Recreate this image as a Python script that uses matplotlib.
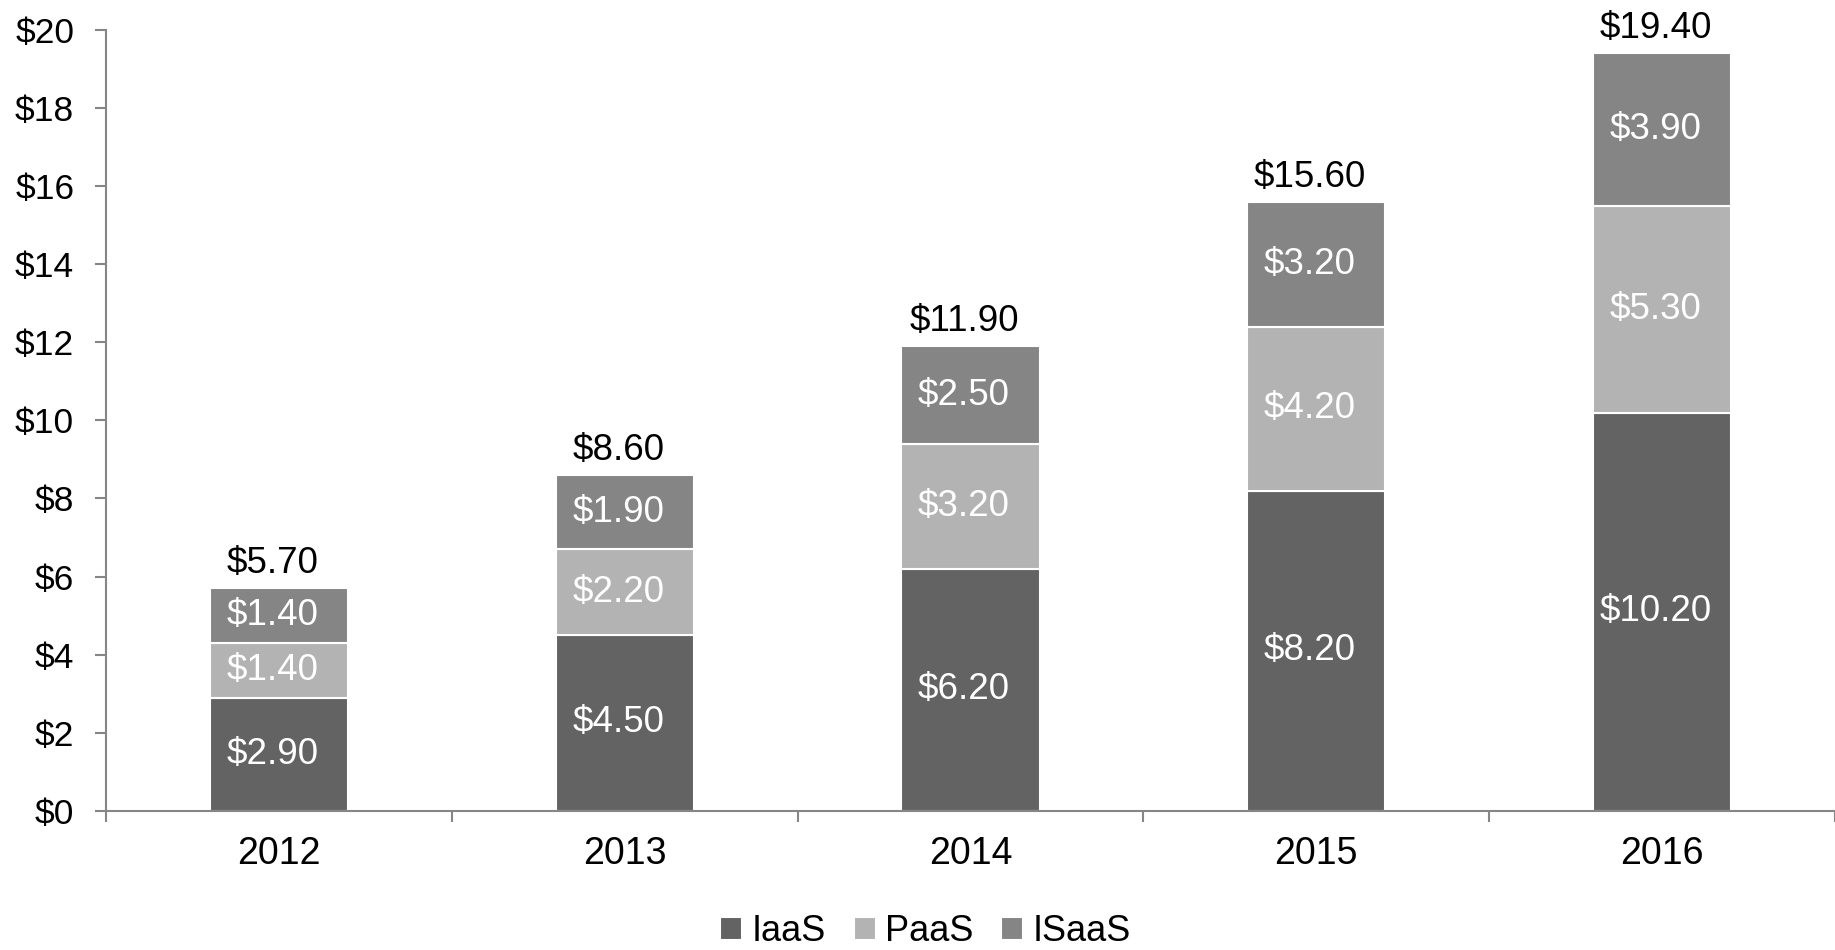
import matplotlib
matplotlib.use("Agg")
import matplotlib.pyplot as plt
import numpy as np

years = ["2012", "2013", "2014", "2015", "2016"]
iaas = [2.9, 4.5, 6.2, 8.2, 10.2]
paas = [1.4, 2.2, 3.2, 4.2, 5.3]
isaas = [1.4, 1.9, 2.5, 3.2, 3.9]
totals = [5.7, 8.6, 11.9, 15.6, 19.4]
series_names = ["IaaS", "PaaS", "ISaaS"]
colors = ["#636363", "#b3b3b3", "#858585"]

plt.rcParams['font.family'] = ['Liberation Sans', 'DejaVu Sans']
FS = 27
FSV = 26.5
FSY = 25.5
FSL = 26

fig = plt.figure(figsize=(18.35, 9.5), dpi=100)
ax = fig.add_axes([0.0578, 0.1466, 0.9422, 0.8218])

x = np.arange(len(years))
w = 0.4
XOFF = -4.7  # points
bottom = np.zeros(len(years))
for vals, name, col in zip([iaas, paas, isaas], series_names, colors):
    vals = np.array(vals)
    ax.bar(x, vals, w, bottom=bottom, color=col, edgecolor="white", linewidth=1.5, label=name)
    for xi, b, v in zip(x, bottom, vals):
        ax.annotate(f"${v:.2f}", (xi, b + v / 2), xytext=(XOFF, 0), textcoords="offset points",
                    ha="center", va="center", color="white", fontsize=FSV)
    bottom += vals

for xi, t in zip(x, totals):
    ax.annotate(f"${t:.2f}", (xi, t), xytext=(XOFF, 5), textcoords="offset points",
                ha="center", va="bottom", fontsize=FSV, color="black")

ax.set_xlim(-0.5, len(years) - 0.5)
ax.set_ylim(0, 20)
ax.set_yticks(np.arange(0, 21, 2))
ax.set_yticklabels([f"${v}" for v in range(0, 21, 2)], fontsize=FSY)
ax.set_xticks(np.arange(-0.5, len(years), 1.0), minor=False)
ax.set_xticklabels([])
ax.set_xticks(x, minor=True)
ax.set_xticklabels(years, minor=True, fontsize=FS)
ax.tick_params(axis="x", which="major", length=8, color="#868686", width=1.5, direction="out")
ax.tick_params(axis="x", which="minor", length=0, pad=18)
ax.tick_params(axis="y", length=8, color="#868686", width=1.5, pad=15)

for s in ["top", "right"]:
    ax.spines[s].set_visible(False)
for s in ["left", "bottom"]:
    ax.spines[s].set_color("#868686")
    ax.spines[s].set_linewidth(1.5)

leg = fig.legend(loc="center", bbox_to_anchor=(0.5044, 0.019), ncol=3, frameon=False,
                 fontsize=FSL, handlelength=0.61, handleheight=0.61, handletextpad=0.26,
                 columnspacing=0.77, borderpad=0)

fig.savefig("out.png", dpi=100)
